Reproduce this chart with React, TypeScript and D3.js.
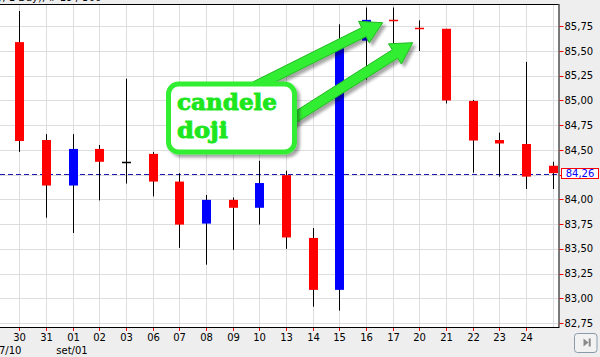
import React from 'react';
import * as d3 from 'd3';

const dates = ['30','31','01','02','03','06','07','08','09','10','13','14','15','16','17','20','21','22','23','24','27'];
const opens  = [85.59, 84.60, 84.14, 84.51, 84.375, 84.46, 84.18, 83.755, 83.995, 83.915, 84.245, 83.61, 83.085, 85.605, 85.81, 85.735, 85.725, 84.995, 84.60, 84.56, 84.34];
const highs  = [85.905, 84.66, 84.66, 84.55, 85.22, 84.48, 84.265, 84.045, 84.02, 84.39, 84.29, 83.71, 85.77, 85.94, 85.94, 85.81, 85.725, 85.005, 84.675, 85.39, 84.38];
const lows   = [84.48, 83.815, 83.66, 83.99, 84.16, 84.03, 83.51, 83.34, 83.49, 83.745, 83.50, 82.915, 82.875, 85.21, 85.58, 85.50, 84.97, 84.27, 84.23, 84.105, 84.105];
const closes = [84.59, 84.14, 84.51, 84.38, 84.375, 84.18, 83.745, 83.995, 83.915, 84.165, 83.615, 83.085, 85.55, 85.815, 85.805, 85.73, 85.00, 84.595, 84.565, 84.23, 84.265];
const yTicks = [82.75, 83.0, 83.25, 83.5, 83.75, 84.0, 84.25, 84.5, 84.75, 85.0, 85.25, 85.5, 85.75];
const lastPrice = 84.26;
const monthLabels = ['set/01'];
const monthAt = ['01'];
const calloutLines = ['candele', 'doji'];

const W = 600, H = 357;
const PL = 0, PR = 558.5, PT = 4, PB = 327;

const fmt = (v: number) => d3.format('.2f')(v).replace('.', ',');

function arrowPoints(x0: number, y0: number, x1: number, y1: number, s = 10, hw = 24, hl = 21) {
  const dx = x1 - x0, dy = y1 - y0, L = Math.hypot(dx, dy);
  const ux = dx / L, uy = dy / L, px = -uy, py = ux;
  const bx = x1 - ux * hl, by = y1 - uy * hl;
  const pts = [
    [x0 + px * s / 2, y0 + py * s / 2],
    [bx + px * s / 2, by + py * s / 2],
    [bx + px * hw / 2, by + py * hw / 2],
    [x1, y1],
    [bx - px * hw / 2, by - py * hw / 2],
    [bx - px * s / 2, by - py * s / 2],
    [x0 - px * s / 2, y0 - py * s / 2],
  ];
  return pts.map(p => p.join(',')).join(' ');
}

export default function App() {
  const x = d3.scalePoint<string>().domain(dates).range([19.33, 552.7]);
  const y = d3.scaleLinear().domain([82.75, 85.75]).range([323, 26.3]);
  const px = (d: string) => Math.round(x(d) as number);
  const font = 'DejaVu Sans, Verdana, sans-serif';

  return (
    <div style={{ position: 'fixed', left: 0, top: 0, width: W, height: H }}>
      <svg width={W} height={H} style={{ display: 'block' }}>
        <defs>
          <filter id="sh" x="-20%" y="-20%" width="140%" height="140%">
            <feDropShadow dx="3" dy="3" stdDeviation="1.5" floodColor="#000" floodOpacity="0.35" />
          </filter>
          <clipPath id="plotClip">
            <rect x={PL} y={PT} width={PR - PL} height={PB - PT} />
          </clipPath>
        </defs>
        <rect x={0} y={0} width={W} height={H} fill="#eeeeee" />
        <text x={-1} y={1} fontFamily={font} fontSize={10} fill="#000">/, 1 Day), # 19 / 300</text>
        <rect x={PL} y={PT} width={PR - PL} height={PB - PT} fill="#ffffff" />
        <g clipPath="url(#plotClip)">
          {yTicks.map(t => (
            <line key={'h' + t} x1={PL} x2={PR} y1={Math.round(y(t)) + 0.5} y2={Math.round(y(t)) + 0.5} stroke="#dddddd" strokeWidth={1} />
          ))}
          {dates.map(d => (
            <line key={'v' + d} x1={px(d) + 0.5} x2={px(d) + 0.5} y1={PT} y2={PB} stroke="#dddddd" strokeWidth={1} />
          ))}
          <line x1={PL} x2={PR} y1={Math.round(y(lastPrice)) + 0.5} y2={Math.round(y(lastPrice)) + 0.5} stroke="#1c1cb0" strokeWidth={1} strokeDasharray="5,3" />
          {dates.map((d, i) => {
            const o = opens[i], c = closes[i];
            const col = c > o ? '#0000ff' : c < o ? '#ff0000' : '#000000';
            const cx = px(d);
            const top = y(Math.max(o, c)), bot = y(Math.min(o, c));
            const isDoji = bot - top < 1.5;
            return (
              <g key={'c' + d}>
                <line x1={cx + 0.5} x2={cx + 0.5} y1={y(highs[i])} y2={y(lows[i])} stroke="#000" strokeWidth={1} />
                {isDoji ? (
                  <line x1={cx - 4} x2={cx + 5} y1={Math.round(top) + 0.5} y2={Math.round(top) + 0.5} stroke={col} strokeWidth={1.5} />
                ) : (
                  <rect x={cx - 4} y={top} width={9} height={bot - top} fill={col} />
                )}
              </g>
            );
          })}
        </g>
        {/* axes */}
        <line x1={PL} x2={PR} y1={PT + 0.5} y2={PT + 0.5} stroke="#000" />
        <line x1={PL} x2={PR + 0.5} y1={PB + 0.5} y2={PB + 0.5} stroke="#000" />
        <line x1={PR + 0.5} x2={PR + 0.5} y1={PT} y2={PB + 1} stroke="#000" />
        {yTicks.map(t => (
          <g key={'yt' + t}>
            <line x1={PR + 1} x2={PR + 5} y1={Math.round(y(t)) + 0.5} y2={Math.round(y(t)) + 0.5} stroke="#ff0000" />
            <text x={564.5} y={y(t)} dy="0.36em" fontFamily={font} fontSize={10} fill="#000">{fmt(t)}</text>
          </g>
        ))}
        {dates.slice(0, dates.length - 1).map(d => (
          <g key={'xt' + d}>
            <line x1={px(d) + 0.5} x2={px(d) + 0.5} y1={PB + 1} y2={PB + 4} stroke="#ff0000" />
            <text x={px(d) + 0.5} y={340.7} textAnchor="middle" fontFamily={font} fontSize={10} fill="#000">{d}</text>
          </g>
        ))}
        {monthLabels.map((m, i) => (
          <text key={m} x={px(monthAt[i]) - 1} y={354} textAnchor="middle" fontFamily={font} fontSize={10} fill="#000">{m}</text>
        ))}
        <text x={-1} y={354} fontFamily={font} fontSize={10} fill="#000">7/10</text>
        {/* last price label */}
        <rect x={561.5} y={168.5} width={37} height={10} fill="#ffffff" stroke="#ff0000" strokeWidth={1} />
        <text x={580} y={y(lastPrice)} dy="0.38em" textAnchor="middle" fontFamily={font} fontSize={10} fill="#0000ff">{fmt(lastPrice)}</text>
        {/* scroll button */}
        <rect x={574.5} y={333.5} width={22.5} height={19} rx={3} fill="#f2f2f2" stroke="#8a9aaa" strokeWidth={1} />
        <path d="M583.5,338.5 L588.5,342.5 L583.5,346.5 Z" fill="#8a8a8a" />
        <rect x={588.7} y={338.5} width={2} height={8} fill="#8a8a8a" />
        {/* annotation arrows */}
        <g filter="url(#sh)">
          <polygon points={arrowPoints(250, 89, 382.7, 22.7)} fill="#33ee33" stroke="#22b822" strokeWidth={1} strokeLinejoin="miter" />
          <polygon points={arrowPoints(280, 127, 412.7, 42.7)} fill="#33ee33" stroke="#22b822" strokeWidth={1} strokeLinejoin="miter" />
        </g>
        <rect x={168.5} y={84} width={126} height={68} rx={10} fill="#ffffff" stroke="#33ee33" strokeWidth={5} filter="url(#sh)" />
        <text x={177} y={110} fontFamily="DejaVu Serif, serif" fontWeight="bold" fontSize={22} fill="#1ee61e" stroke="#1ee61e" strokeWidth={0.9} textLength={100} lengthAdjust="spacingAndGlyphs">{calloutLines[0]}</text>
        <text x={177} y={137.5} fontFamily="DejaVu Serif, serif" fontWeight="bold" fontSize={22} fill="#1ee61e" stroke="#1ee61e" strokeWidth={0.9} textLength={51} lengthAdjust="spacingAndGlyphs">{calloutLines[1]}</text>
      </svg>
    </div>
  );
}
